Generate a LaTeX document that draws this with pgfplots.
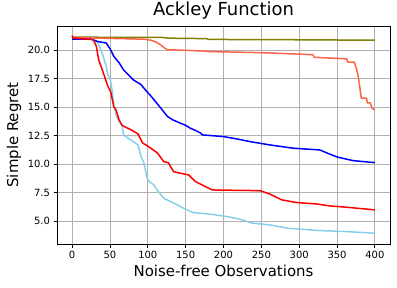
\documentclass[border=0pt]{standalone}
\usepackage{pgfplots}
\pgfplotsset{compat=1.18}
\usepackage{fontspec}
\setmainfont{DejaVu Sans}
\definecolor{olivec}{HTML}{808000}
\definecolor{tomatoc}{HTML}{FF6347}
\definecolor{skyc}{HTML}{87CEEB}
\definecolor{gridc}{HTML}{B0B0B0}
\begin{document}
\begin{tikzpicture}
\begin{axis}[
  name=ax,
  scale only axis,
  width=333bp, height=218bp,
  xmin=-20, xmax=420, ymin=2.97, ymax=22.13,
  xtick={0,50,...,400},
  ytick={5,7.5,10,12.5,15,17.5,20},
  yticklabel style={/pgf/number format/.cd, fixed, fixed zerofill, precision=1},
  xticklabel style={/pgf/number format/.cd, fixed, precision=0},
  /pgf/number format/assume math mode=true,
  scaled ticks=false,
  tick label style={font=\fontsize{10}{12}\selectfont},
  tick align=outside, tick pos=left,
  major tick length=3.5bp,
  every tick/.style={black, line width=0.8bp},
  axis line style={line width=0.8bp},
  grid=major,
  major grid style={gridc, line width=0.8bp},
  title={Ackley Function},
  title style={font=\fontsize{18}{21}\selectfont, at={(axis description cs:0.5,1.023)}, anchor=base},
  xlabel={Noise-free Observations},
  xlabel style={font=\fontsize{15}{18}\selectfont, at={(axis description cs:0.5,-0.151)}, anchor=base},
  ylabel={Simple Regret},
  ylabel style={font=\fontsize{15}{18}\selectfont, at={(axis description cs:-0.117,0.5)}, anchor=base},
  every axis plot/.append style={line width=1.5bp, line join=round},
]
% olive
\addplot[olivec] coordinates {(0,21.15) (120,21.12) (128,21.06) (178,21.02) (180,20.95) (300,20.92) (400,20.88)};
% tomato
\addplot[tomatoc] coordinates {(0,21.12) (95,20.97) (104,20.88) (110,20.75) (117,20.47) (122,20.2) (126,20.05) (170,19.94) (183,19.88) (248,19.79) (318,19.61) (320,19.38) (363,19.24) (364,18.95) (373,18.95) (376,18.3) (378,17.7) (380,16.8) (382,15.8) (389,15.8) (390,15.37) (394,15.37) (396,14.93) (400,14.75)};
% skyblue
\addplot[skyc] coordinates {(0,21.0) (25,21.0) (29,20.93) (34,20.64) (37,20.2) (41,19.47) (45,18.59) (47,17.86) (50,17.57) (53,16.4) (55,15.22) (58,14.34) (62,13.76) (66,13.37) (68,12.56) (74,12.27) (87,11.68) (91,10.65) (95,10.07) (99,8.75) (102,8.45) (108,8.16) (113,7.64) (121,7.0) (130,6.7) (139,6.41) (147,6.12) (160,5.73) (179,5.62) (205,5.38) (222,5.15) (238,4.8) (261,4.65) (284,4.36) (327,4.15) (363,4.06) (400,3.92)};
% blue
\addplot[blue] coordinates {(0,20.97) (25,20.97) (34,20.76) (45,20.64) (51,20.03) (55,19.47) (62,18.9) (68,18.27) (75,17.8) (81,17.39) (91,16.98) (97,16.5) (104,15.98) (110,15.5) (117,14.93) (126,14.17) (133,13.88) (143,13.59) (150,13.4) (156,13.15) (163,12.95) (170,12.71) (172,12.56) (200,12.41) (218,12.2) (235,11.97) (261,11.68) (292,11.39) (327,11.24) (343,10.8) (351,10.6) (371,10.3) (400,10.12)};
% red
\addplot[red] coordinates {(0,21.3) (1,21.08) (28,20.93) (32,20.35) (35,19.17) (42,17.86) (47,16.86) (51,16.34) (55,15.04) (58,14.75) (62,13.88) (66,13.39) (74,13.13) (78,13.0) (87,12.65) (93,11.85) (101,11.53) (104,11.39) (113,10.95) (121,10.21) (127,10.12) (134,9.33) (143,9.19) (154,9.04) (163,8.45) (185,7.72) (248,7.66) (261,7.37) (277,6.85) (297,6.61) (323,6.49) (340,6.32) (363,6.2) (400,5.97)};
\end{axis}
\pgfresetboundingbox
\path[use as bounding box] ([xshift=-57bp,yshift=-43bp]ax.south west) rectangle ([xshift=7bp,yshift=26bp]ax.north east);
\end{tikzpicture}
\end{document}
